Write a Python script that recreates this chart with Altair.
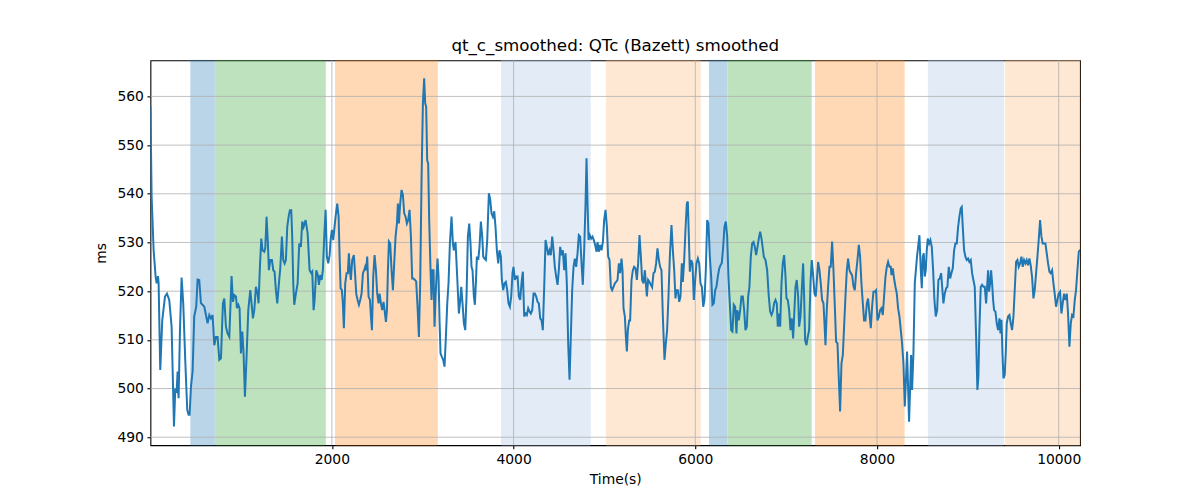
import altair as alt
import pandas as pd

# ---------------- data ----------------
TIME_S = [
    3, 16, 38, 60, 71, 86, 93, 111, 133, 163,
    185, 210, 236, 262, 276, 291, 302, 313, 328, 346,
    364, 386, 408, 423, 434, 449, 467, 485, 507, 522,
    540, 559, 577, 596, 614, 632, 651, 669, 687, 706,
    724, 742, 761, 779, 801, 816, 834, 852, 871, 882,
    896, 911, 926, 944, 955, 970, 984, 999, 1014, 1028,
    1043, 1061, 1080, 1102, 1116, 1131, 1146, 1164, 1182, 1193,
    1208, 1223, 1237, 1256, 1267, 1281, 1296, 1307, 1322, 1340,
    1355, 1369, 1384, 1399, 1417, 1432, 1450, 1465, 1480, 1494,
    1509, 1524, 1538, 1553, 1564, 1575, 1586, 1604, 1623, 1641,
    1659, 1674, 1689, 1711, 1733,
    1755, 1773, 1784, 1799, 1810, 1828, 1846, 1857, 1872, 1887,
    1901, 1916, 1931, 1945, 1960, 1975, 1986, 2000, 2015, 2026,
    2041, 2059, 2074, 2085, 2096, 2110, 2121, 2132, 2147, 2162,
    2176, 2187, 2198, 2209, 2224, 2242, 2253, 2268, 2283, 2298,
    2312, 2327, 2342, 2356, 2367, 2378, 2389, 2404, 2419, 2430,
    2441, 2455, 2470, 2485, 2499, 2514, 2525, 2540, 2554, 2569,
    2580, 2595, 2606, 2617, 2628, 2642, 2657, 2672, 2686, 2701,
    2716, 2727, 2738, 2752, 2767, 2782, 2796, 2811, 2826, 2840,
    2855, 2870, 2884, 2899, 2914, 2928, 2943, 2958, 2972, 2987,
    3002, 3016, 3027, 3038, 3049, 3060, 3071, 3086, 3097, 3108,
    3119, 3130, 3141, 3152, 3163, 3174, 3185, 3196, 3211, 3225,
    3240, 3255, 3270, 3284, 3299, 3317, 3332, 3343, 3361, 3376,
    3398, 3413, 3424, 3438, 3453, 3468, 3482, 3497, 3512, 3526,
    3537, 3548, 3563, 3574, 3585, 3596, 3611, 3625, 3640, 3655,
    3666, 3680, 3695, 3710, 3728, 3743, 3757, 3772, 3787, 3801,
    3816, 3831, 3845, 3860, 3871, 3886, 3900, 3915, 3930, 3944,
    3959, 3974, 3988, 3999, 4014, 4029, 4044, 4058, 4073, 4087,
    4102, 4117, 4132, 4146, 4161, 4176, 4190, 4205, 4220, 4234,
    4249, 4264, 4278, 4293, 4308, 4322, 4337, 4352, 4366, 4381,
    4396, 4410, 4425, 4440, 4454, 4469, 4484, 4498, 4513, 4528,
    4542, 4557, 4572, 4586, 4601, 4616, 4630, 4645, 4660, 4674,
    4689, 4704, 4718, 4733, 4748, 4762, 4777, 4792, 4803, 4814,
    4825, 4839, 4854, 4869, 4883, 4898, 4913, 4924, 4938, 4953,
    4968, 4983, 4997, 5012, 5027, 5041, 5056, 5071,
    5085, 5100, 5115, 5129, 5144, 5159, 5173, 5188, 5199, 5210,
    5225, 5236, 5247, 5258, 5272, 5283, 5298, 5313, 5327, 5342,
    5357, 5371, 5386, 5401, 5415, 5430, 5445, 5456, 5467, 5481,
    5496, 5511, 5525, 5540, 5555, 5569, 5584, 5599, 5613, 5628,
    5643, 5661, 5676, 5690, 5705, 5720, 5738, 5753, 5768, 5782,
    5793, 5808, 5823, 5837, 5852, 5863, 5878, 5892, 5907, 5918,
    5929, 5940, 5955, 5969, 5984, 5999, 6013, 6028, 6043, 6057,
    6072, 6087, 6101, 6116, 6131, 6145, 6160, 6175, 6189, 6204,
    6219, 6233, 6248, 6263, 6277, 6292, 6307, 6321, 6336, 6351,
    6365, 6380, 6395, 6409, 6424, 6439, 6453, 6464, 6479, 6494,
    6508, 6523, 6538, 6552, 6567, 6582, 6596, 6611, 6626, 6641,
    6655, 6670, 6685, 6699, 6714, 6729, 6743,
    6754, 6773, 6791, 6809, 6824, 6839, 6853, 6868, 6883, 6897,
    6908, 6919, 6934, 6949, 6963, 6978, 6993, 7004, 7018, 7033,
    7048, 7062, 7077, 7088, 7103, 7117, 7132, 7143, 7158, 7172,
    7187, 7198, 7209, 7224, 7238, 7253, 7268, 7282, 7297, 7312,
    7326, 7341, 7352, 7367, 7381, 7396, 7411, 7422, 7433, 7447,
    7462, 7477, 7491, 7506, 7521, 7536, 7550, 7565, 7579, 7594,
    7609, 7624, 7638, 7653, 7668, 7682, 7697, 7712, 7726, 7741,
    7756, 7770, 7785, 7800, 7814, 7829, 7844, 7858, 7873, 7888,
    7902, 7917, 7932, 7946, 7961, 7976, 7990, 8005, 8020, 8034,
    8049, 8064, 8078, 8093, 8108, 8122, 8137, 8152, 8159, 8174,
    8188, 8203, 8218, 8232, 8247, 8262, 8276, 8291, 8306, 8320,
    8331, 8342, 8353, 8364, 8375, 8386, 8401, 8416, 8440,
    8467, 8482, 8493, 8504, 8515, 8526, 8537, 8548, 8559, 8574,
    8588, 8603, 8618, 8632, 8647, 8662, 8676, 8691, 8706, 8720,
    8731, 8746, 8761, 8775, 8790, 8805, 8819, 8834, 8849, 8863,
    8878, 8893, 8907, 8922, 8933, 8944, 8959, 8973, 8988, 9003,
    9017, 9032, 9047, 9061, 9076, 9091, 9105, 9116, 9127, 9142,
    9157, 9171, 9186, 9201, 9212, 9223, 9234, 9245, 9256, 9267,
    9278, 9289, 9304, 9318, 9333, 9348, 9359, 9370, 9381, 9392,
    9406, 9417, 9428, 9443, 9458, 9472, 9487, 9502, 9516, 9531,
    9546, 9560, 9575, 9590, 9604, 9619, 9634, 9648, 9663, 9678,
    9692, 9707, 9722, 9736, 9751, 9766, 9780, 9795, 9810, 9824,
    9839, 9854, 9868, 9883, 9898, 9912, 9927, 9942, 9956, 9971,
    9986, 10000, 10015, 10030, 10044, 10059, 10074, 10089, 10103, 10118,
    10133, 10147, 10162, 10177, 10191, 10206, 10221, 10235,
]

QTC_MS = [
    558.0, 539.4, 528.4, 523.0, 521.6, 523.1, 521.6, 503.8, 514.0, 518.9,
    519.5, 518.2, 512.7, 492.2, 499.7, 499.4, 503.5, 498.0, 512.0, 522.8,
    517.5, 505.9, 495.6, 494.6, 494.6, 500.4, 503.5, 514.8, 516.8, 522.4,
    522.3, 517.5, 517.2, 516.8, 515.1, 513.4, 515.1, 514.4, 515.1, 508.9,
    510.6, 510.6, 505.9, 506.2, 517.5, 518.5, 512.7, 511.3, 510.6, 516.1,
    523.1, 517.8, 519.2, 518.9, 516.5, 517.2, 516.5, 507.2, 511.7, 507.2,
    498.3, 506.5, 516.1, 520.2, 517.5, 514.4, 516.1, 520.9, 519.5, 517.5,
    525.0, 530.8, 528.4, 528.1, 528.8, 535.3, 529.8, 524.3, 526.4, 526.4,
    524.3, 524.0, 520.2, 517.5, 521.6, 524.7, 531.2, 526.4, 525.7, 526.4,
    533.2, 535.3, 536.6, 536.6, 530.8, 521.6, 517.2, 519.5, 521.6, 529.8,
    529.1, 534.3, 533.2, 534.6, 531.9,
    524.3, 523.7, 524.0, 516.1, 518.2, 524.3, 523.3, 521.3, 523.3, 522.3,
    524.3, 531.2, 536.7, 527.1, 525.7, 527.4, 530.5, 532.6, 530.5, 532.6,
    535.3, 538.0, 535.3, 527.1, 520.6, 520.2, 517.5, 512.4, 521.6, 523.7,
    523.7, 527.8, 524.3, 522.3, 526.4, 527.4, 524.3, 519.5, 518.2, 517.2,
    518.2, 519.5, 523.7, 524.3, 525.0, 524.3, 527.1, 518.9, 518.2, 514.8,
    512.0, 522.9, 527.4, 524.3, 519.5, 517.5, 519.5, 517.5, 516.1, 517.8,
    516.1, 513.7, 516.1, 524.3, 530.2, 529.8, 524.3, 520.2, 525.7, 531.2,
    533.9, 538.0, 533.9, 538.0, 540.8, 539.7, 536.0, 535.3, 533.9, 534.6,
    536.7, 531.2, 522.6, 522.6, 522.3, 522.0, 516.8, 510.6, 521.6, 542.8,
    558.6, 563.7, 558.6, 557.9, 546.9, 546.2, 534.6, 524.3, 518.2, 524.3,
    524.3, 512.7, 518.9, 523.0, 526.7, 523.0, 514.0, 507.2, 506.5, 505.9,
    504.5, 510.6, 517.5, 521.6, 529.8, 535.3, 529.8, 528.4, 530.1, 524.3,
    515.4, 518.2, 520.9, 517.5, 513.4, 512.0, 518.9, 531.2, 533.9, 529.8,
    525.0, 524.3, 518.9, 517.2, 521.6, 527.1, 526.4, 529.1, 534.3, 531.2,
    527.1, 526.7, 526.4, 530.5, 540.1, 538.8, 536.0, 535.3, 536.4, 533.2,
    528.4, 525.7, 528.4, 527.1, 522.3, 520.2, 521.6, 521.9, 520.2, 517.5,
    516.8, 518.9, 523.7, 525.0, 522.3, 523.0, 523.0, 518.9, 518.2, 521.6,
    524.0, 514.8, 515.4, 515.1, 516.5, 515.8, 515.4, 516.1, 519.5, 519.5,
    518.9, 517.8, 517.5, 514.4, 514.0, 512.0, 520.9, 530.5, 529.1, 527.4,
    528.4, 527.4, 531.2, 528.4, 525.0, 523.0, 521.3, 524.3, 529.1, 527.4,
    528.4, 524.3, 527.8, 521.6, 509.3, 501.8, 510.6, 520.2, 525.0, 526.7,
    525.0, 527.8, 531.5, 531.2, 525.7, 521.3, 528.4, 538.0, 547.3, 538.0,
    530.5, 531.5, 530.8, 531.2, 530.5, 529.5, 528.1, 530.1, 528.1, 529.5,
    528.4, 530.1, 534.6, 536.7, 533.2, 527.1, 526.4, 520.8,
    520.2, 520.9, 521.6, 521.9, 522.3, 525.7, 523.7, 526.7, 524.3, 516.5,
    514.8, 510.6, 507.6, 512.0, 514.0, 514.0, 522.3, 524.3, 525.0, 524.7,
    522.3, 525.7, 531.5, 527.1, 522.3, 521.6, 524.3, 521.6, 518.9, 522.3,
    521.9, 521.3, 520.8, 523.7, 524.0, 525.7, 528.8, 526.4, 525.0, 524.3,
    514.8, 505.9, 509.3, 512.0, 518.9, 527.1, 533.6, 528.4, 524.3, 518.5,
    520.2, 520.2, 517.8, 518.9, 525.7, 521.9, 526.4, 532.6, 538.0, 538.4,
    531.2, 524.0, 526.4, 525.7, 518.2, 522.3, 525.7, 526.7, 525.7, 521.6,
    520.9, 516.8, 518.2, 524.3, 534.6, 533.9, 527.1, 522.9, 517.2, 517.5,
    520.2, 520.9, 523.0, 524.6, 525.3, 525.8, 529.1, 533.2, 534.3, 531.2,
    522.9, 517.5, 512.0, 511.7, 517.2, 516.8, 511.3, 516.1, 514.0, 516.1,
    518.9, 518.9, 516.1, 512.0, 512.7, 518.9, 520.9, 527.1, 529.8, 530.1,
    529.1, 527.4, 529.1, 530.8, 532.2, 530.8, 528.8,
    527.1, 526.4, 524.3, 518.9, 515.8, 515.1, 515.8, 517.5, 518.2, 517.5,
    512.7, 515.4, 512.7, 521.6, 525.7, 527.4, 523.0, 518.5, 518.2, 516.1,
    512.0, 514.4, 510.3, 514.8, 520.9, 522.3, 518.9, 512.7, 514.8, 520.2,
    525.7, 518.9, 509.9, 508.9, 510.6, 512.0, 521.6, 526.4, 523.3, 519.5,
    518.9, 523.0, 526.0, 524.3, 521.6, 518.2, 517.5, 513.4, 508.9, 516.1,
    520.9, 525.0, 525.0, 530.2, 524.3, 516.8, 509.6, 509.3, 502.4, 495.3,
    505.2, 506.9, 512.7, 518.9, 524.3, 526.7, 524.3, 523.7, 523.3, 521.0,
    520.2, 523.7, 526.4, 529.5, 527.1, 521.6, 517.5, 514.0, 514.0, 517.5,
    518.5, 515.4, 512.4, 516.8, 519.9, 519.9, 520.2, 514.0, 514.7, 516.1,
    516.5, 515.1, 518.9, 522.9, 525.0, 526.0, 525.0, 525.0, 523.3, 524.7,
    522.6, 520.9, 519.5, 516.5, 514.8, 512.0, 509.3, 505.2, 496.3, 502.4,
    507.6, 500.4, 493.2, 499.7, 506.9, 499.7, 507.2, 521.6, 527.0,
    531.5, 524.3, 520.6, 527.1, 527.8, 523.0, 524.3, 528.4, 530.8, 529.8,
    530.5, 529.1, 524.3, 518.2, 514.8, 516.1, 522.3, 522.6, 523.7, 520.2,
    517.5, 519.5, 520.6, 520.9, 525.0, 522.6, 523.7, 524.7, 528.4, 529.8,
    529.8, 533.2, 535.3, 537.0, 537.3, 533.2, 528.4, 527.1, 526.4, 526.7,
    526.0, 526.4, 523.7, 522.3, 520.9, 510.6, 499.7, 502.4, 512.0, 520.9,
    521.3, 520.9, 520.9, 517.5, 520.9, 524.3, 519.9, 521.6, 524.3, 521.6,
    518.2, 516.1, 515.8, 513.4, 512.0, 514.4, 511.3, 514.1, 507.2, 502.1,
    502.8, 507.2, 513.4, 514.8, 515.1, 513.4, 512.0, 514.8, 520.2, 526.0,
    526.4, 525.0, 525.7, 527.1, 525.0, 526.4, 525.7, 526.4, 525.3, 526.7,
    525.3, 522.9, 518.5, 520.2, 523.7, 527.1, 530.5, 534.6, 531.2, 529.8,
    529.8, 529.8, 527.8, 525.7, 524.0, 523.7, 524.3, 521.6, 519.5, 516.8,
    518.2, 519.5, 519.9, 515.4, 517.5, 519.5, 518.2, 519.5, 515.4, 508.6,
    513.4, 515.1, 514.8, 518.2, 520.2, 524.3, 528.1, 528.5,
]

# shaded intervals (axvspan-like)
SPAN_START = [448, 720, 2041, 3867, 5022, 6156, 6366, 7323, 8566, 9413]
SPAN_END = [706, 1927, 3160, 4843, 6054, 6351, 7275, 8298, 9392, 10235]
SPAN_COLOR = ["#1f77b4", "#2ca02c", "#ff7f0e", "#aec7e8", "#ffbb78",
              "#1f77b4", "#2ca02c", "#ff7f0e", "#aec7e8", "#ffbb78"]
SPAN_ALPHA = [0.3, 0.3, 0.3, 0.35, 0.32, 0.3, 0.3, 0.3, 0.35, 0.32]

X_TICKS = [2000, 4000, 6000, 8000, 10000]
Y_TICKS = [490, 500, 510, 520, 530, 540, 550, 560]

X_DOMAIN = [3, 10235]
Y_DOMAIN = [488.36, 567.4]

TITLE = "qt_c_smoothed: QTc (Bazett) smoothed"

# ---------------- chart ----------------
n = min(len(TIME_S), len(QTC_MS))
series = pd.DataFrame({"time": TIME_S[:n], "qtc": QTC_MS[:n]})
spans = pd.DataFrame({"start": SPAN_START, "end": SPAN_END,
                      "color": SPAN_COLOR, "alpha": SPAN_ALPHA})
xgrid = pd.DataFrame({"t": X_TICKS})
ygrid = pd.DataFrame({"v": Y_TICKS})

W, H = 930, 385
FONT = "DejaVu Sans"
xs = alt.Scale(domain=X_DOMAIN, nice=False, zero=False)
ys = alt.Scale(domain=Y_DOMAIN, nice=False, zero=False)
x_axis = alt.Axis(values=X_TICKS, format="d", title="Time(s)", grid=False, titlePadding=6)
y_axis = alt.Axis(values=Y_TICKS, format="d", title="ms", grid=False, titlePadding=8)

span_layer = alt.Chart(spans).mark_rect(strokeWidth=1).encode(
    x=alt.X("start:Q", scale=xs, axis=x_axis),
    x2="end:Q",
    y=alt.value(0),
    y2=alt.value(H),
    fill=alt.Fill("color:N", scale=None),
    stroke=alt.Stroke("color:N", scale=None),
    opacity=alt.Opacity("alpha:Q", scale=None),
)

hgrid = alt.Chart(ygrid).mark_rule(color="#b0b0b0", strokeWidth=0.8).encode(
    y=alt.Y("v:Q", scale=ys, axis=y_axis)
)
vgrid = alt.Chart(xgrid).mark_rule(color="#b0b0b0", strokeWidth=0.8).encode(
    x=alt.X("t:Q", scale=xs, axis=x_axis)
)

line = alt.Chart(series).mark_line(color="#1f77b4", strokeWidth=2, clip=True).encode(
    x=alt.X("time:Q", scale=xs, axis=x_axis),
    y=alt.Y("qtc:Q", scale=ys, axis=y_axis),
)

chart = alt.layer(span_layer, hgrid, vgrid, line).properties(
    width=W,
    height=H,
    background="white",
    title=alt.TitleParams(text=TITLE, font=FONT, fontSize=16.7, fontWeight="normal",
                          color="black", anchor="middle", offset=5),
    autosize=alt.AutoSizeParams(type="none"),
    padding={"left": 142.5, "top": 52.3, "right": 112, "bottom": 47},
).configure_view(
    stroke="black", strokeWidth=1.1
).configure_axis(
    labelFont=FONT, labelFontSize=13.9, labelColor="black",
    titleFont=FONT, titleFontSize=13.9, titleFontWeight="normal", titleColor="black",
    tickColor="black", tickSize=3.5, tickWidth=1.1, labelPadding=3.5, domain=False,
)

chart.save("out.html", embed_options={"renderer": "svg", "actions": False})
